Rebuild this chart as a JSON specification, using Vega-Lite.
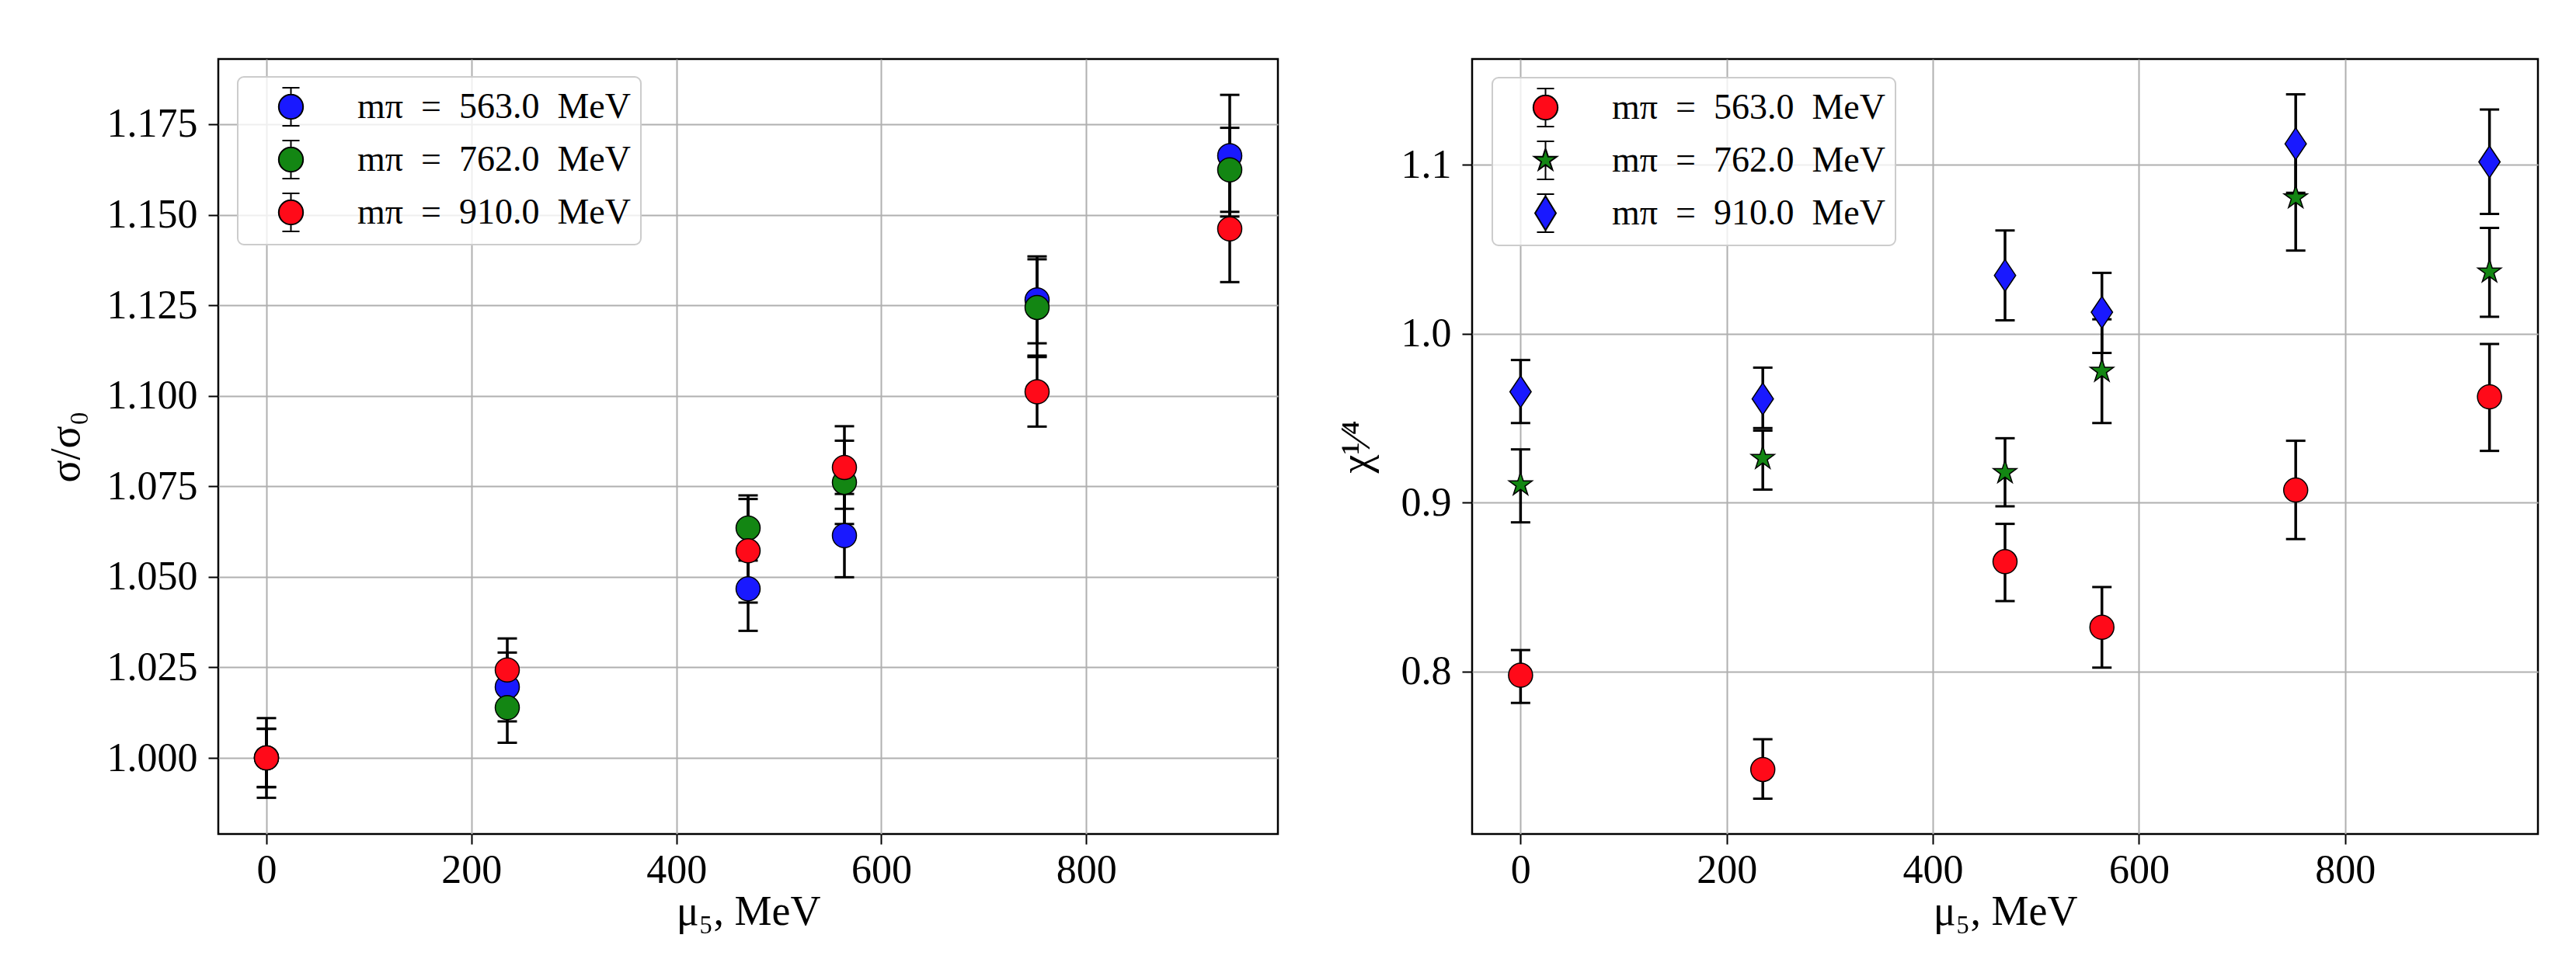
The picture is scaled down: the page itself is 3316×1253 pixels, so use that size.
{
  "$schema": "https://vega.github.io/schema/vega-lite/v6.json",
  "background": "white",
  "padding": {"left": 56, "top": 74, "right": 10, "bottom": 10},
  "spacing": 70,
  "datasets": {
    "sig": [
      {"mu5": 0, "s": "mπ\u00a0 =\u00a0 563.0\u00a0 MeV", "val": 1.0, "lo": 0.989, "hi": 1.011},
      {"mu5": 235, "s": "mπ\u00a0 =\u00a0 563.0\u00a0 MeV", "val": 1.0196, "lo": 1.0101, "hi": 1.0291},
      {"mu5": 470, "s": "mπ\u00a0 =\u00a0 563.0\u00a0 MeV", "val": 1.0467, "lo": 1.0351, "hi": 1.0583},
      {"mu5": 564, "s": "mπ\u00a0 =\u00a0 563.0\u00a0 MeV", "val": 1.0614, "lo": 1.0499, "hi": 1.0729},
      {"mu5": 752, "s": "mπ\u00a0 =\u00a0 563.0\u00a0 MeV", "val": 1.1265, "lo": 1.1145, "hi": 1.1385},
      {"mu5": 940, "s": "mπ\u00a0 =\u00a0 563.0\u00a0 MeV", "val": 1.1663, "lo": 1.1495, "hi": 1.1831},
      {"mu5": 0, "s": "mπ\u00a0 =\u00a0 762.0\u00a0 MeV", "val": 1.0, "lo": 0.9919, "hi": 1.0081},
      {"mu5": 235, "s": "mπ\u00a0 =\u00a0 762.0\u00a0 MeV", "val": 1.0139, "lo": 1.0042, "hi": 1.0236},
      {"mu5": 470, "s": "mπ\u00a0 =\u00a0 762.0\u00a0 MeV", "val": 1.0635, "lo": 1.0545, "hi": 1.0725},
      {"mu5": 564, "s": "mπ\u00a0 =\u00a0 762.0\u00a0 MeV", "val": 1.0761, "lo": 1.0646, "hi": 1.0876},
      {"mu5": 752, "s": "mπ\u00a0 =\u00a0 762.0\u00a0 MeV", "val": 1.1244, "lo": 1.1111, "hi": 1.1377},
      {"mu5": 940, "s": "mπ\u00a0 =\u00a0 762.0\u00a0 MeV", "val": 1.1624, "lo": 1.1508, "hi": 1.174},
      {"mu5": 0, "s": "mπ\u00a0 =\u00a0 910.0\u00a0 MeV", "val": 1.0, "lo": 0.992, "hi": 1.008},
      {"mu5": 235, "s": "mπ\u00a0 =\u00a0 910.0\u00a0 MeV", "val": 1.0243, "lo": 1.0156, "hi": 1.033},
      {"mu5": 470, "s": "mπ\u00a0 =\u00a0 910.0\u00a0 MeV", "val": 1.0572, "lo": 1.0429, "hi": 1.0715},
      {"mu5": 564, "s": "mπ\u00a0 =\u00a0 910.0\u00a0 MeV", "val": 1.0802, "lo": 1.0688, "hi": 1.0916},
      {"mu5": 752, "s": "mπ\u00a0 =\u00a0 910.0\u00a0 MeV", "val": 1.1011, "lo": 1.0915, "hi": 1.1107},
      {"mu5": 940, "s": "mπ\u00a0 =\u00a0 910.0\u00a0 MeV", "val": 1.1461, "lo": 1.1314, "hi": 1.1608}
    ],
    "chi": [
      {"mu5": 0, "s": "mπ\u00a0 =\u00a0 563.0\u00a0 MeV", "val": 0.7979, "lo": 0.7815, "hi": 0.8128},
      {"mu5": 235, "s": "mπ\u00a0 =\u00a0 563.0\u00a0 MeV", "val": 0.7421, "lo": 0.7248, "hi": 0.76},
      {"mu5": 470, "s": "mπ\u00a0 =\u00a0 563.0\u00a0 MeV", "val": 0.8651, "lo": 0.8418, "hi": 0.8875},
      {"mu5": 564, "s": "mπ\u00a0 =\u00a0 563.0\u00a0 MeV", "val": 0.8263, "lo": 0.8024, "hi": 0.8501},
      {"mu5": 752, "s": "mπ\u00a0 =\u00a0 563.0\u00a0 MeV", "val": 0.9075, "lo": 0.8785, "hi": 0.9367},
      {"mu5": 940, "s": "mπ\u00a0 =\u00a0 563.0\u00a0 MeV", "val": 0.9627, "lo": 0.9307, "hi": 0.994},
      {"mu5": 0, "s": "mπ\u00a0 =\u00a0 762.0\u00a0 MeV", "val": 0.9107, "lo": 0.8884, "hi": 0.9316},
      {"mu5": 235, "s": "mπ\u00a0 =\u00a0 762.0\u00a0 MeV", "val": 0.9263, "lo": 0.9078, "hi": 0.9427},
      {"mu5": 470, "s": "mπ\u00a0 =\u00a0 762.0\u00a0 MeV", "val": 0.9179, "lo": 0.8979, "hi": 0.9382},
      {"mu5": 564, "s": "mπ\u00a0 =\u00a0 762.0\u00a0 MeV", "val": 0.9779, "lo": 0.9472, "hi": 1.0086},
      {"mu5": 752, "s": "mπ\u00a0 =\u00a0 762.0\u00a0 MeV", "val": 1.0806, "lo": 1.0493, "hi": 1.1119},
      {"mu5": 940, "s": "mπ\u00a0 =\u00a0 762.0\u00a0 MeV", "val": 1.0367, "lo": 1.0101, "hi": 1.0627},
      {"mu5": 0, "s": "mπ\u00a0 =\u00a0 910.0\u00a0 MeV", "val": 0.9657, "lo": 0.9472, "hi": 0.9845},
      {"mu5": 235, "s": "mπ\u00a0 =\u00a0 910.0\u00a0 MeV", "val": 0.9615, "lo": 0.9442, "hi": 0.98},
      {"mu5": 470, "s": "mπ\u00a0 =\u00a0 910.0\u00a0 MeV", "val": 1.0346, "lo": 1.008, "hi": 1.0612},
      {"mu5": 564, "s": "mπ\u00a0 =\u00a0 910.0\u00a0 MeV", "val": 1.0128, "lo": 0.9887, "hi": 1.0361},
      {"mu5": 752, "s": "mπ\u00a0 =\u00a0 910.0\u00a0 MeV", "val": 1.1125, "lo": 1.0835, "hi": 1.1418},
      {"mu5": 940, "s": "mπ\u00a0 =\u00a0 910.0\u00a0 MeV", "val": 1.1018, "lo": 1.071, "hi": 1.1328}
    ]
  },
  "hconcat": [
    {
      "width": 1364,
      "height": 998,
      "data": {"name": "sig"},
      "layer": [
        {
          "mark": {"type": "rule", "color": "black", "strokeWidth": 3.5},
          "encoding": {
            "x": {"field": "mu5", "type": "quantitative", "title": "μ₅, MeV",
              "scale": {"domain": [-47, 987], "nice": false, "zero": false},
              "axis": {"values": [0, 200, 400, 600, 800], "labelPadding": 8, "titlePadding": 1}},
            "y": {"field": "lo", "type": "quantitative", "title": "σ/σ₀",
              "scale": {"domain": [0.979, 1.193], "nice": false, "zero": false},
              "axis": {"values": [1.0, 1.025, 1.05, 1.075, 1.1, 1.125, 1.15, 1.175], "format": ".3f", "titlePadding": 25, "labelPadding": 14}},
            "y2": {"field": "hi"}
          }
        },
        {
          "mark": {"type": "tick", "orient": "horizontal", "color": "black", "size": 25, "thickness": 3, "opacity": 1},
          "encoding": {
            "x": {"field": "mu5", "type": "quantitative", "title": "μ₅, MeV"},
            "y": {"field": "lo", "type": "quantitative", "title": "σ/σ₀"}
          }
        },
        {
          "mark": {"type": "tick", "orient": "horizontal", "color": "black", "size": 25, "thickness": 3, "opacity": 1},
          "encoding": {
            "x": {"field": "mu5", "type": "quantitative", "title": "μ₅, MeV"},
            "y": {"field": "hi", "type": "quantitative", "title": "σ/σ₀"}
          }
        },
        {
          "mark": {"type": "point", "shape": "circle", "filled": true, "size": 961, "stroke": "black", "strokeWidth": 1.5, "opacity": 1},
          "encoding": {
            "x": {"field": "mu5", "type": "quantitative", "title": "μ₅, MeV"},
            "y": {"field": "val", "type": "quantitative", "title": "σ/σ₀"},
            "fill": {"field": "s", "type": "nominal",
              "scale": {"domain": ["mπ\u00a0 =\u00a0 563.0\u00a0 MeV", "mπ\u00a0 =\u00a0 762.0\u00a0 MeV", "mπ\u00a0 =\u00a0 910.0\u00a0 MeV"], "range": ["#1919ff", "#138613", "#ff0a19"]},
              "legend": {
                "orient": "none", "legendX": 25, "legendY": 23, "title": null,
                "symbolType": "M-0.64,0A0.64,0.64 0 1,0 0.64,0A0.64,0.64 0 1,0 -0.64,0ZM0,-1L0,-0.64M0,0.64L0,1M-0.45,-1L0.45,-1M-0.45,1L0.45,1",
                "symbolSize": 2401, "symbolStrokeColor": "black", "symbolStrokeWidth": 2, "symbolOpacity": 1,
                "labelFontSize": 46, "labelFont": "Liberation Serif", "labelColor": "black", "labelLimit": 2000,
                "padding": 13, "rowPadding": 11, "symbolOffset": 30, "labelOffset": 60,
                "strokeColor": "#cccccc", "fillColor": "rgba(255,255,255,0.8)", "cornerRadius": 8,
                "encode": {
                  "legend": {"update": {"strokeWidth": {"value": 2}}},
                  "symbols": {"update": {"shape": {"value": "M-0.64,0A0.64,0.64 0 1,0 0.64,0A0.64,0.64 0 1,0 -0.64,0ZM0,-1L0,-0.64M0,0.64L0,1M-0.45,-1L0.45,-1M-0.45,1L0.45,1"}}}
                }
              }
            }
          }
        }
      ]
    },
    {
      "width": 1372,
      "height": 998,
      "data": {"name": "chi"},
      "layer": [
        {
          "mark": {"type": "rule", "color": "black", "strokeWidth": 3.5},
          "encoding": {
            "x": {"field": "mu5", "type": "quantitative", "title": "μ₅, MeV",
              "scale": {"domain": [-47, 987], "nice": false, "zero": false},
              "axis": {"values": [0, 200, 400, 600, 800], "labelPadding": 8, "titlePadding": 1}},
            "y": {"field": "lo", "type": "quantitative", "title": "χ¹⁄⁴",
              "scale": {"domain": [0.7039, 1.1627], "nice": false, "zero": false},
              "axis": {"values": [0.8, 0.9, 1.0, 1.1], "format": ".1f", "titlePadding": 30, "labelPadding": 14}},
            "y2": {"field": "hi"}
          }
        },
        {
          "mark": {"type": "tick", "orient": "horizontal", "color": "black", "size": 25, "thickness": 3, "opacity": 1},
          "encoding": {
            "x": {"field": "mu5", "type": "quantitative", "title": "μ₅, MeV"},
            "y": {"field": "lo", "type": "quantitative", "title": "χ¹⁄⁴"}
          }
        },
        {
          "mark": {"type": "tick", "orient": "horizontal", "color": "black", "size": 25, "thickness": 3, "opacity": 1},
          "encoding": {
            "x": {"field": "mu5", "type": "quantitative", "title": "μ₅, MeV"},
            "y": {"field": "hi", "type": "quantitative", "title": "χ¹⁄⁴"}
          }
        },
        {
          "transform": [{"filter": {"field": "s", "equal": "mπ\u00a0 =\u00a0 563.0\u00a0 MeV"}}],
          "mark": {"type": "point", "filled": true, "size": 1681, "stroke": "black", "strokeWidth": 1.5, "opacity": 1,
            "shape": "M-0.756,0A0.756,0.756 0 1,0 0.756,0A0.756,0.756 0 1,0 -0.756,0Z"},
          "encoding": {
            "x": {"field": "mu5", "type": "quantitative", "title": "μ₅, MeV"},
            "y": {"field": "val", "type": "quantitative", "title": "χ¹⁄⁴"},
            "fill": {"field": "s", "type": "nominal",
              "scale": {"domain": ["mπ\u00a0 =\u00a0 563.0\u00a0 MeV", "mπ\u00a0 =\u00a0 762.0\u00a0 MeV", "mπ\u00a0 =\u00a0 910.0\u00a0 MeV"], "range": ["#ff0a19", "#138613", "#1919ff"]},
              "legend": {
                "orient": "none", "legendX": 26, "legendY": 24, "title": null,
                "symbolSize": 2401, "symbolStrokeColor": "black", "symbolStrokeWidth": 2, "symbolOpacity": 1,
                "labelFontSize": 46, "labelFont": "Liberation Serif", "labelColor": "black", "labelLimit": 2000,
                "padding": 13, "rowPadding": 11, "symbolOffset": 30, "labelOffset": 60,
                "strokeColor": "#cccccc", "fillColor": "rgba(255,255,255,0.8)", "cornerRadius": 8,
                "encode": {
                  "legend": {"update": {"strokeWidth": {"value": 2}}},
                  "symbols": {"update": {"shape": {"signal": "indexof(datum.value, '762') >= 0 ? 'M0,-0.62L0.139,-0.19L0.59,-0.19L0.225,0.073L0.365,0.5L0,0.237L-0.365,0.5L-0.225,0.073L-0.59,-0.19L-0.139,-0.19ZM0,-1L0,-0.62M0,0.24L0,1M-0.45,-1L0.45,-1M-0.45,1L0.45,1' : indexof(datum.value, '910') >= 0 ? 'M0,-0.9L0.55,0L0,0.9L-0.55,0ZM0,-1L0,-0.9M0,0.9L0,1M-0.45,-1L0.45,-1M-0.45,1L0.45,1' : 'M-0.64,0A0.64,0.64 0 1,0 0.64,0A0.64,0.64 0 1,0 -0.64,0ZM0,-1L0,-0.64M0,0.64L0,1M-0.45,-1L0.45,-1M-0.45,1L0.45,1'"}}}
                }
              }
            }
          }
        },
        {
          "transform": [{"filter": {"field": "s", "equal": "mπ\u00a0 =\u00a0 762.0\u00a0 MeV"}}],
          "mark": {"type": "point", "filled": true, "size": 1681, "stroke": "black", "strokeWidth": 1.5, "opacity": 1,
            "shape": "M0,-0.77L0.173,-0.238L0.732,-0.238L0.28,0.091L0.453,0.623L0,0.294L-0.453,0.623L-0.28,0.091L-0.732,-0.238L-0.173,-0.238Z"},
          "encoding": {
            "x": {"field": "mu5", "type": "quantitative", "title": "μ₅, MeV"},
            "y": {"field": "val", "type": "quantitative", "title": "χ¹⁄⁴"},
            "fill": {"field": "s", "type": "nominal"}
          }
        },
        {
          "transform": [{"filter": {"field": "s", "equal": "mπ\u00a0 =\u00a0 910.0\u00a0 MeV"}}],
          "mark": {"type": "point", "filled": true, "size": 1681, "stroke": "black", "strokeWidth": 1.5, "opacity": 1,
            "shape": "M0,-1L0.67,0L0,1L-0.67,0Z"},
          "encoding": {
            "x": {"field": "mu5", "type": "quantitative", "title": "μ₅, MeV"},
            "y": {"field": "val", "type": "quantitative", "title": "χ¹⁄⁴"},
            "fill": {"field": "s", "type": "nominal"}
          }
        }
      ]
    }
  ],
  "resolve": {
    "scale": {"x": "independent", "y": "independent", "fill": "independent"},
    "legend": {"fill": "independent"}
  },
  "config": {
    "font": "Liberation Serif",
    "view": {"stroke": "black", "strokeWidth": 2.5},
    "axis": {
      "domain": false, "grid": true, "gridColor": "#b0b0b0", "gridWidth": 2,
      "tickColor": "black", "tickSize": 13, "tickWidth": 2,
      "labelFont": "Liberation Serif", "labelFontSize": 52, "labelColor": "black", "labelOverlap": false, "labelFlush": false,
      "titleFont": "Liberation Serif", "titleFontSize": 54, "titleColor": "black", "titleFontWeight": "normal"
    }
  }
}
